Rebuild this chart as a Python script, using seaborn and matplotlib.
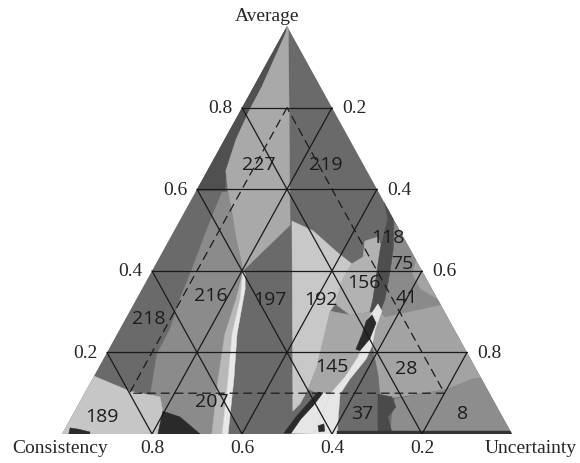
import numpy as np
import pandas as pd
import matplotlib
matplotlib.use("Agg")
import matplotlib.pyplot as plt
from matplotlib.patches import Polygon
import seaborn as sns

sns.set_theme(style="white")
plt.rcParams["font.family"] = ["Liberation Serif", "DejaVu Serif"]

# ---------------- data ----------------
corner_left = "Consistency"
corner_top = "Average"
corner_right = "Uncertainty"
grid_levels = [0.2, 0.4, 0.6, 0.8]
left_tick_labels = ["0.2", "0.4", "0.6", "0.8"]      # Average
right_tick_labels = ["0.8", "0.6", "0.4", "0.2"]     # Uncertainty
bottom_tick_labels = ["0.8", "0.6", "0.4", "0.2"]    # Consistency
dashed_min = 0.1

# numbered solutions, positions in ternary-plane coordinates (x along base, y = Average)
sol_ids = ["227", "219", "118", "75", "156", "41", "192", "197",
           "216", "218", "189", "207", "145", "28", "37", "8"]
sol_x = [0.438, 0.587, 0.724, 0.756, 0.671, 0.767, 0.576, 0.462,
         0.331, 0.193, 0.089, 0.333, 0.600, 0.764, 0.667, 0.891]
sol_y = [0.662, 0.662, 0.483, 0.419, 0.373, 0.336, 0.331, 0.331,
         0.341, 0.284, 0.044, 0.081, 0.167, 0.162, 0.051, 0.051]

# region outlines (ternary-plane coordinates) and grey shades
base_shade = "#6a6a6a"
reg_edge_dark = [(0.5, 1.0), (0.498, 0.985), (0.444, 0.851), (0.418, 0.797), (0.387, 0.723),
                 (0.364, 0.645), (0.362, 0.596), (0.298, 0.596)]
reg_227 = [(0.503, 1.0), (0.507, 0.512), (0.402, 0.400), (0.398, 0.424), (0.387, 0.478),
           (0.378, 0.539), (0.369, 0.593), (0.364, 0.645), (0.387, 0.723), (0.418, 0.797),
           (0.444, 0.851), (0.498, 0.985), (0.5, 1.0)]
reg_216 = [(0.356, 0.593), (0.369, 0.593), (0.378, 0.539), (0.387, 0.478), (0.398, 0.424),
           (0.402, 0.400), (0.391, 0.355), (0.378, 0.257), (0.364, 0.135), (0.351, 0.0),
           (0.218, 0.0), (0.224, 0.056), (0.218, 0.091), (0.196, 0.093), (0.211, 0.196),
           (0.240, 0.257), (0.262, 0.331), (0.289, 0.404), (0.318, 0.490), (0.340, 0.551)]
reg_strip = [(0.402, 0.400), (0.387, 0.331), (0.362, 0.245), (0.347, 0.135), (0.333, 0.0),
             (0.356, 0.0), (0.369, 0.135), (0.378, 0.245), (0.396, 0.331)]
reg_streak = [(0.402, 0.400), (0.396, 0.331), (0.378, 0.245), (0.369, 0.135), (0.356, 0.0),
              (0.369, 0.0), (0.382, 0.135), (0.389, 0.245), (0.407, 0.355), (0.407, 0.392)]
reg_189 = [(-0.05, 0.0), (-0.05, 0.16), (0.071, 0.142), (0.151, 0.105), (0.218, 0.091),
           (0.224, 0.056), (0.213, 0.0)]
reg_black_a = [(0.224, 0.056), (0.262, 0.042), (0.307, 0.0), (0.213, 0.0)]
reg_black_b = [(0.018, 0.015), (0.036, 0.012), (0.062, 0.005), (0.062, -0.01), (0.013, -0.01)]
reg_192 = [(0.511, 0.522), (0.558, 0.498), (0.611, 0.446), (0.644, 0.417), (0.624, 0.380),
           (0.607, 0.319), (0.596, 0.301), (0.567, 0.167), (0.547, 0.110), (0.529, 0.074),
           (0.513, 0.056)]
reg_156 = [(0.644, 0.417), (0.669, 0.434), (0.673, 0.473), (0.702, 0.483), (0.711, 0.453),
           (0.700, 0.400), (0.691, 0.331), (0.684, 0.299), (0.640, 0.292), (0.607, 0.319),
           (0.624, 0.380)]
reg_145 = [(0.596, 0.301), (0.640, 0.292), (0.684, 0.299), (0.702, 0.319), (0.680, 0.282),
           (0.669, 0.221), (0.658, 0.189), (0.629, 0.140), (0.596, 0.098), (0.573, 0.098),
           (0.547, 0.110), (0.567, 0.167)]
reg_28 = [(0.762, 0.478), (1.02, 0.478), (1.02, 0.123), (0.936, 0.135), (0.913, 0.135),
          (0.856, 0.110), (0.751, 0.091), (0.707, 0.086), (0.702, 0.147), (0.689, 0.216),
          (0.696, 0.270), (0.707, 0.299)]
reg_8 = [(0.740, 0.086), (0.856, 0.110), (0.913, 0.135), (1.02, 0.154), (1.02, -0.01),
         (0.729, -0.01), (0.733, 0.042)]
reg_41 = [(0.740, 0.522), (0.80, 0.45), (0.787, 0.429), (0.778, 0.392), (0.796, 0.355),
          (0.851, 0.319), (0.718, 0.287), (0.707, 0.299), (0.718, 0.331), (0.729, 0.400),
          (0.736, 0.453)]
reg_band = [(0.716, 0.569), (0.745, 0.55), (0.736, 0.527), (0.736, 0.453), (0.729, 0.400),
            (0.718, 0.331), (0.707, 0.299), (0.684, 0.299), (0.691, 0.331), (0.700, 0.400),
            (0.707, 0.453), (0.724, 0.527)]
reg_37 = [(0.689, 0.216), (0.702, 0.147), (0.707, 0.086), (0.718, 0.0), (0.611, 0.0),
          (0.618, 0.098), (0.640, 0.135), (0.676, 0.184)]
reg_37_dark = [(0.702, 0.098), (0.733, 0.091), (0.742, 0.066), (0.724, 0.042), (0.733, 0.005),
               (0.702, 0.0)]
reg_white = [(0.702, 0.319), (0.711, 0.301), (0.696, 0.257), (0.689, 0.216), (0.676, 0.184),
             (0.640, 0.135), (0.618, 0.098), (0.611, 0.0), (0.560, 0.0), (0.573, 0.037),
             (0.596, 0.098), (0.629, 0.140), (0.658, 0.189), (0.669, 0.221), (0.680, 0.282)]
reg_white_low = [(0.509, 0.002), (0.531, 0.037), (0.558, 0.069), (0.580, 0.101), (0.596, 0.098),
                 (0.573, 0.037), (0.560, 0.0)]
reg_black_c = [(0.689, 0.292), (0.698, 0.272), (0.684, 0.233), (0.662, 0.204), (0.653, 0.208),
               (0.667, 0.245), (0.676, 0.277)]
reg_black_d = [(0.493, 0.002), (0.520, 0.042), (0.547, 0.076), (0.569, 0.103), (0.580, 0.101),
               (0.558, 0.069), (0.531, 0.037), (0.509, 0.002)]
reg_black_e = [(0.569, 0.020), (0.582, 0.025), (0.584, 0.007), (0.571, 0.005)]
reg_bottom = [(0.611, 0.008), (1.02, 0.008), (1.02, -0.01), (0.611, -0.01)]

regions = [
    (reg_edge_dark, "#505050"), (reg_227, "#a9a9a9"), (reg_216, "#8b8b8b"),
    (reg_strip, "#b8b8b8"), (reg_streak, "#e8e8e8"), (reg_189, "#c6c6c6"),
    (reg_black_a, "#2a2a2a"), (reg_black_b, "#2a2a2a"), (reg_192, "#c8c8c8"),
    (reg_156, "#b2b2b2"), (reg_145, "#a7a7a7"), (reg_28, "#a3a3a3"), (reg_8, "#8d8d8d"),
    (reg_41, "#8a8a8a"), (reg_band, "#4e4e4e"), (reg_37, "#6c6c6c"), (reg_37_dark, "#4a4a4a"),
    (reg_white, "#e6e6e6"), (reg_white_low, "#e6e6e6"), (reg_black_c, "#2a2a2a"),
    (reg_black_d, "#2a2a2a"), (reg_black_e, "#2a2a2a"), (reg_bottom, "#333333"),
]

# ---------------- figure ----------------
fig = plt.figure(figsize=(5.8, 4.64), dpi=100)
ax = fig.add_axes([62 / 580, 29 / 464, 450 / 580, 408 / 464])
ax.set_xlim(0, 1)
ax.set_ylim(0, 1)
ax.axis("off")

def tern(a, u):
    """(Average, Uncertainty) -> plane coordinates"""
    return u + a / 2.0, a

tri = Polygon([tern(0, 0), tern(0, 1), tern(1, 0)], closed=True,
              facecolor=base_shade, edgecolor="none", zorder=1)
ax.add_patch(tri)
for pts, col in regions:
    p = Polygon(pts, closed=True, facecolor=col, edgecolor=col, lw=0.3, zorder=2)
    ax.add_patch(p)
    p.set_clip_path(tri)

# lattice lines
rows = []
sid = 0
for k in grid_levels:
    for (a0, u0), (a1, u1) in [((k, 0), (k, 1 - k)),          # Average = k
                               ((0, k), (1 - k, k)),          # Uncertainty = k
                               ((0, 1 - k), (1 - k, 0))]:     # Consistency = k
        for a, u in [(a0, u0), (a1, u1)]:
            x, y = tern(a, u)
            rows.append({"seg": sid, "x": x, "y": y})
        sid += 1
grid_df = pd.DataFrame(rows)
sns.lineplot(data=grid_df, x="x", y="y", units="seg", estimator=None, sort=False,
             color="#1a1a1a", lw=0.9, ax=ax, zorder=4, legend=False)

m = dashed_min
dash_pts = [tern(1 - 2 * m, m), tern(m, m), tern(m, 1 - 2 * m), tern(1 - 2 * m, m)]
dash_df = pd.DataFrame({"x": [p[0] for p in dash_pts], "y": [p[1] for p in dash_pts]})
sns.lineplot(data=dash_df, x="x", y="y", estimator=None, sort=False, color="#1a1a1a",
             lw=0.9, linestyle=(0, (7, 4)), ax=ax, zorder=4, legend=False)
ax.set_xlim(0, 1)
ax.set_ylim(0, 1)
ax.set_xlabel("")
ax.set_ylabel("")

# solution numbers
for t, x, y in zip(sol_ids, sol_x, sol_y):
    ax.text(x, y, t, ha="center", va="center", fontsize=14, color="#1c1c1c",
            family=["Open Sans", "DejaVu Sans"], zorder=5)

# tick labels
fs = 14
for k, lab in zip(grid_levels, left_tick_labels):
    ax.annotate(lab, xy=tern(k, 0), xytext=(-6.5, 0), textcoords="offset points",
                ha="right", va="center", fontsize=fs, annotation_clip=False)
for k, lab in zip(grid_levels, right_tick_labels):
    ax.annotate(lab, xy=tern(k, 1 - k), xytext=(7.2, 0), textcoords="offset points",
                ha="left", va="center", fontsize=fs, annotation_clip=False)
for k, lab in zip(grid_levels, bottom_tick_labels):
    ax.annotate(lab, xy=(k, 0), xytext=(0, -13), textcoords="offset points",
                ha="center", va="baseline", fontsize=fs, annotation_clip=False)
ax.annotate(corner_left, xy=(0, 0), xytext=(-36, -13), textcoords="offset points",
            ha="left", va="baseline", fontsize=fs, annotation_clip=False)
ax.annotate(corner_right, xy=(1, 0), xytext=(46.5, -13), textcoords="offset points",
            ha="right", va="baseline", fontsize=fs, annotation_clip=False)
ax.annotate(corner_top, xy=(0.5, 1), xytext=(-14.4, 4.3), textcoords="offset points",
            ha="center", va="baseline", fontsize=fs, annotation_clip=False)

fig.savefig("out.png", dpi=100, facecolor="white")
